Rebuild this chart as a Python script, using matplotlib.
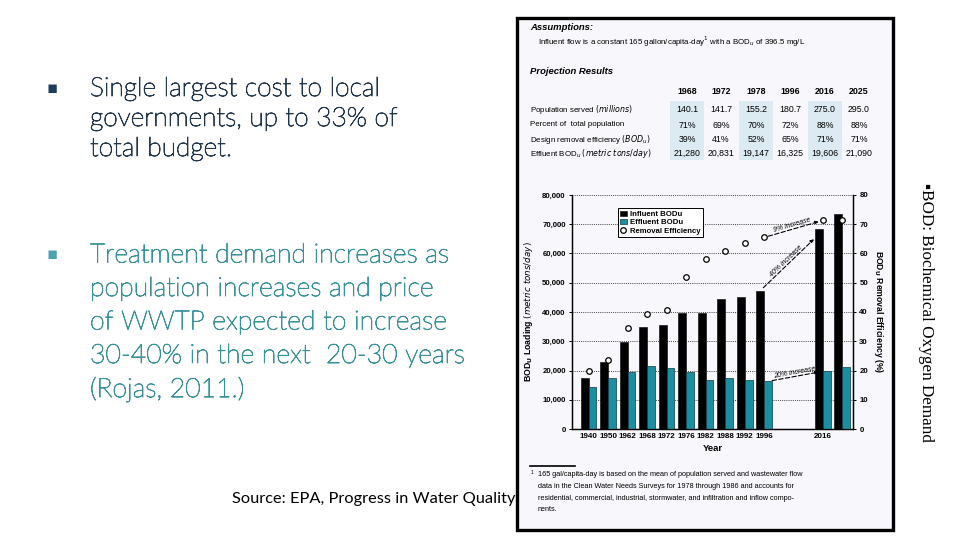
import numpy as np
import matplotlib
matplotlib.use("Agg")
import matplotlib.pyplot as plt
import matplotlib.patheffects as pe
from matplotlib.patches import Rectangle

# ---------------- data ----------------
year_labels = ["1940", "1950", "1962", "1968", "1972", "1976", "1982", "1988", "1992", "1996", "2016", ""]
slot = [0, 1, 2, 3, 4, 5, 6, 7, 8, 9, 12, 13]
influent = [17600, 23000, 29600, 34900, 35400, 39800, 39800, 44300, 45000, 47300, 68400, 73400]
effluent = [14300, 17600, 19600, 21600, 20900, 19600, 16800, 17400, 16800, 16300, 20000, 21300]
efficiency = [20.0, 23.5, 34.7, 39.2, 40.8, 52.0, 58.0, 61.0, 63.6, 65.5, 71.3, 71.3]

tbl_years = ["1968", "1972", "1978", "1996", "2016", "2025"]
tbl_rows = ["Population served $\\it{(millions)}$", "Percent of  total population",
            "Design removal efficiency $\\it{(BOD_u)}$", "Effluent BOD$_u$ $\\it{(metric\\ tons/day)}$"]
tbl_pop = ["140.1", "141.7", "155.2", "180.7", "275.0", "295.0"]
tbl_pct = ["71%", "69%", "70%", "72%", "88%", "88%"]
tbl_eff = ["39%", "41%", "52%", "65%", "71%", "71%"]
tbl_bod = ["21,280", "20,831", "19,147", "16,325", "19,606", "21,090"]

bullet1 = ["Single largest cost to local", "governments, up to 33% of", "total budget."]
bullet2 = ["Treatment demand increases as", "population increases and price",
           "of WWTP expected to increase", "30-40% in the next  20-30 years", "(Rojas, 2011.)"]

W, H = 960, 540
fig = plt.figure(figsize=(9.6, 5.4), dpi=100)
fig.patch.set_facecolor("white")

def P(x, y):
    return (x / W, 1 - y / H)

# ---------------- left slide text ----------------
navy = "#22364c"
teal_t = "#3a919a"
fig.text(*P(52, 88), "\u25aa", color="#1f3b5c", fontsize=12, ha="center", va="center", family="DejaVu Sans")
fig.text(*P(52, 254), "\u25aa", color="#4aa3ad", fontsize=12, ha="center", va="center", family="DejaVu Sans")
for i, s in enumerate(bullet1):
    fig.text(*P(90, 89 + 30 * i), s, color=navy, fontsize=19, family="Lato", fontweight="light",
             ha="left", va="center",
             path_effects=[pe.withStroke(linewidth=0.6, foreground=navy)])
for i, s in enumerate(bullet2):
    fig.text(*P(90, 255 + 33.5 * i), s, color=teal_t, fontsize=19.2, family="Lato", fontweight="light",
             ha="left", va="center",
             path_effects=[pe.withStroke(linewidth=0.6, foreground=teal_t)])
fig.text(*P(232, 499), "Source: EPA, Progress in Water Quality", color="black", fontsize=11.8,
         family="Lato", ha="left", va="center")
fig.text(*P(926, 312), "\u25aaBOD: Biochemical Oxygen Demand", rotation=270, fontsize=12.3,
         family="Liberation Serif", ha="center", va="center", color="black")

# ---------------- figure panel ----------------
x0, y0 = P(517, 530)
fig.patches.append(Rectangle((x0, y0), 376 / W, 512 / H, transform=fig.transFigure,
                             facecolor="#f8f7fb", edgecolor="black", lw=2.4, zorder=0))

hf = "Liberation Sans"
fig.text(*P(530, 28), "Assumptions:", fontsize=6.8, fontweight="bold", style="italic", family=hf, va="center")
fig.text(*P(538, 42), "Influent flow is a constant 165 gallon/capita-day$^1$ with a BOD$_u$ of 396.5 mg/L",
         fontsize=5.7, family=hf, va="center")
fig.text(*P(530, 72), "Projection Results", fontsize=6.8, fontweight="bold", style="italic", family=hf, va="center")

col_x = [687, 721, 756, 790, 825, 859]
row_y = [110, 125, 139, 153]
for j, cx in enumerate(col_x):
    if j % 2 == 0:
        bx, by = P(cx - 17, 160)
        fig.patches.append(Rectangle((bx, by), 34 / W, 59 / H, transform=fig.transFigure,
                                     facecolor="#dcebf1", edgecolor="none", zorder=0.5))
    fig.text(*P(cx, 92), tbl_years[j], fontsize=6.4, fontweight="bold", family=hf, ha="center", va="center")
for i, lab in enumerate(tbl_rows):
    fig.text(*P(530, row_y[i]), lab, fontsize=5.7, family=hf, va="center")
for i, vals in enumerate([tbl_pop, tbl_pct, tbl_eff, tbl_bod]):
    for j, v in enumerate(vals):
        fig.text(*P(col_x[j], row_y[i]), v, fontsize=6.3, family=hf, ha="center", va="center")

# footnote
lx0, ly = P(530, 466)
fig.add_artist(plt.Line2D([lx0, 575 / W], [ly, ly], transform=fig.transFigure, color="black", lw=1.2))
foot = ["165 gal/capita-day is based on the mean of population served and wastewater flow",
        "data in the Clean Water Needs Surveys for 1978 through 1986 and accounts for",
        "residential, commercial, industrial, stormwater, and infiltration and inflow compo-",
        "nents."]
fig.text(*P(531, 472), "1", fontsize=3.5, family=hf, va="center")
for i, s in enumerate(foot):
    fig.text(*P(538, 475 + 11.5 * i), s, fontsize=5.2, family=hf, va="center")

# ---------------- chart ----------------
ax = fig.add_axes([572 / W, 1 - 429 / H, (853 - 572) / W, (429 - 195) / H])
ax.set_facecolor("none")
ax.set_zorder(5)
ax2 = ax.twinx()
ax2.set_zorder(6)
ax2.set_facecolor("none")
bw = 0.40
xs = np.array(slot, dtype=float)
b1 = ax.bar(xs - bw / 2, influent, width=bw, color="black", edgecolor="black", lw=0.4,
            label="Influent BODu", zorder=3)
b2 = ax.bar(xs + bw / 2, effluent, width=bw, color="#1b8ea2", edgecolor="#0a3b45", lw=0.5,
            label="Effluent BODu", zorder=3)
sc, = ax2.plot(xs, efficiency, "o", mfc="white", mec="black", ms=4, mew=0.9, ls="none",
               label="Removal Efficiency", zorder=4)

ax.set_xlim(-0.85, 13.55)
ax.set_ylim(0, 80000)
ax2.set_ylim(0, 80)
ax.set_yticks(np.arange(0, 80001, 10000))
ax.set_yticklabels([f"{int(v):,}" for v in np.arange(0, 80001, 10000)])
ax2.set_yticks(np.arange(0, 81, 10))
ax.set_xticks(xs)
ax.set_xticklabels(year_labels)
ax.yaxis.grid(True, linestyle=(0, (1, 1.2)), color="#444444", lw=0.7, zorder=0)
for a in (ax, ax2):
    a.spines["top"].set_visible(False)
    for sp in ("left", "right", "bottom"):
        a.spines[sp].set_linewidth(0.9)
    a.tick_params(labelsize=5.6, length=2.5, width=0.7, pad=2)
    for t in a.get_yticklabels() + a.get_xticklabels():
        t.set_family(hf)
        t.set_fontweight("bold")
ax.tick_params(axis="x", length=0, pad=3, labelsize=5.8)
ax.set_xlabel("Year", fontsize=6.8, fontweight="bold", family=hf, labelpad=3)
ax.set_ylabel("BOD$_\\mathbf{U}$ Loading $\\it{(metric\\ tons/day)}$", fontsize=6.3, fontweight="bold",
              family=hf, labelpad=5)
ax2.set_ylabel("BOD$_\\mathbf{U}$ Removal Efficiency (%)", fontsize=6.2, fontweight="bold",
               family=hf, rotation=270, labelpad=12)

leg = ax2.legend(handles=[b1, b2, sc], loc="upper left", bbox_to_anchor=(0.15, 0.96),
                 fancybox=False, edgecolor="black", handlelength=0.8,
                 handletextpad=0.4, borderpad=0.3, labelspacing=0.12,
                 prop={"family": hf, "weight": "bold", "size": 5.6})
leg.get_frame().set_linewidth(0.7)
leg.get_frame().set_facecolor("white")
leg.get_frame().set_alpha(1)

# growth annotations (from 1996 to 2016 values)
i0, i1 = 9, 10
arrow = dict(arrowstyle="-|>", linestyle=(0, (4, 2)), color="black", lw=0.8, mutation_scale=5,
             shrinkA=3, shrinkB=3)

def grow(a, p0, p1, label):
    a.annotate("", xy=p1, xytext=p0, arrowprops=arrow, zorder=5)
    mx, my = (p0[0] + p1[0]) / 2, (p0[1] + p1[1]) / 2
    ang = np.degrees(np.arctan2(p1[1] - p0[1], p1[0] - p0[0]))
    a.text(mx, my, label, fontsize=5, style="italic", family=hf, ha="center", va="bottom",
           rotation=ang, transform_rotates_text=True, rotation_mode="anchor", zorder=5)

grow(ax2, (xs[i0], efficiency[i0]), (xs[i1], efficiency[i1]), "9% increase")
grow(ax, (xs[i0] - bw / 2, influent[i0]), (xs[i1] - bw / 2 - 0.1, influent[i1] - 2500), "40% increase")
grow(ax, (xs[i0] + bw / 2, effluent[i0]), (xs[i1], effluent[i1] - 300), "20% increase")

fig.savefig("out.png", dpi=100)
